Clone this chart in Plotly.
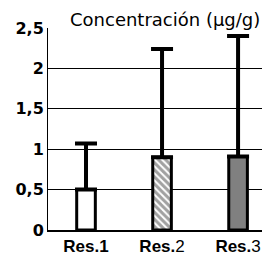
import plotly.graph_objects as go

categories = ["Res.1", "Res.2", "Res.3"]
tick_labels_x = ["<b>Res.1</b>", "<b>Res.</b>2", "<b>Res.</b>3"]
values = [0.50, 0.90, 0.91]
err_plus = [0.57, 1.34, 1.49]
err_minus = [0, 0, 0]
y_ticks = [0, 0.5, 1, 1.5, 2, 2.5]
y_tick_labels = ["0", "0,5", "1", "1,5", "2", "2,5"]
title_text = "Concentración (µg/g)"

fills = ["white", "white", "#808080"]
patterns = ["", "\\", ""]

fig = go.Figure()
fig.add_trace(go.Bar(
    x=list(range(len(categories))),
    y=values,
    width=0.245,
    marker=dict(
        color=fills,
        line=dict(color="black", width=3),
        pattern=dict(shape=patterns, fgcolor="black", bgcolor="white", size=5, solidity=0.6),
    ),
    error_y=dict(type="data", symmetric=False, array=err_plus, arrayminus=err_minus,
                 thickness=4, width=11, color="black"),
    showlegend=False,
))

fig.update_layout(
    width=262, height=248,
    margin=dict(l=40, r=0, t=20, b=20),
    paper_bgcolor="white", plot_bgcolor="white",
    font=dict(family="Liberation Sans, Arial", color="black"),
    xaxis=dict(
        range=[-0.5, 2.42],
        tickvals=list(range(len(categories))),
        ticktext=tick_labels_x,
        tickfont=dict(family="Liberation Sans, Arial", size=17, color="black"),
        showline=True, linecolor="black", linewidth=2,
        showgrid=False, zeroline=False, ticks="",
    ),
    yaxis=dict(
        range=[0, 2.5],
        tickvals=y_ticks,
        ticktext=y_tick_labels,
        tickfont=dict(family="DejaVu Sans", size=16, color="black", weight="bold"),
        showline=True, linecolor="black", linewidth=1,
        showgrid=True, gridcolor="black", gridwidth=1,
        zeroline=False, ticks="",
    ),
    annotations=[dict(
        text=title_text, xref="paper", yref="paper",
        x=0.527, y=1, xanchor="center", yanchor="bottom", yshift=-4,
        showarrow=False,
        font=dict(family="DejaVu Sans", size=18, color="black"),
    )],
)

fig.write_html("out.html")
